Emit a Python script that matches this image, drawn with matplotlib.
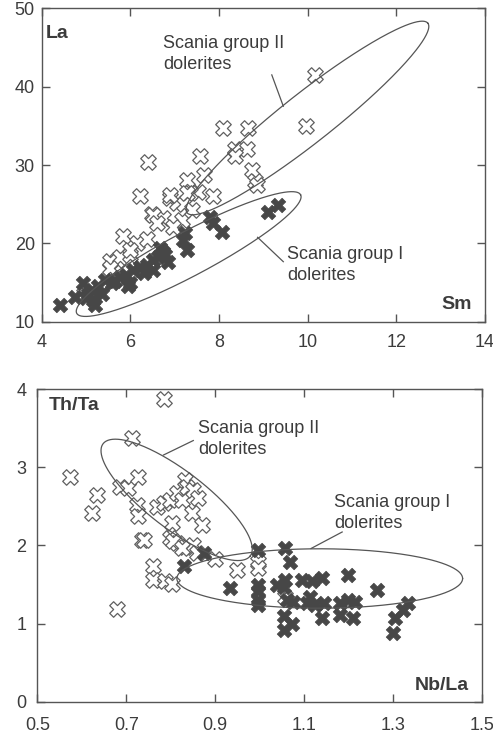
import numpy as np
import matplotlib
matplotlib.use("Agg")
import matplotlib.pyplot as plt

plt.rcParams["font.family"] = ["Liberation Sans", "DejaVu Sans"]

# ─── DATA ─────────────────────────────────────────────────────────────────────
# Sm vs La, group II dolerites (open crosses)
sm_grp2 = [10.17, 9.96, 8.10, 8.66, 8.36, 8.62, 8.36, 6.40, 7.57, 8.74, 8.81,
           7.27, 7.65, 7.87, 7.53, 7.35, 6.22, 6.89, 7.05, 7.20, 6.48, 6.74,
           7.16, 6.97, 6.52, 5.84, 6.14, 6.37, 5.69, 5.54, 5.77, 5.99, 5.99,
           8.85, 6.89, 7.27, 5.54, 4.95, 6.60, 7.40]
la_grp2 = [41.5, 35.0, 34.7, 34.7, 32.1, 32.1, 31.1, 30.4, 31.1, 29.4, 27.9,
           28.1, 28.7, 26.0, 26.6, 26.4, 26.0, 25.8, 25.1, 25.0, 23.8, 23.2,
           23.0, 22.1, 23.6, 20.9, 20.0, 20.6, 17.9, 17.7, 18.3, 18.5, 19.2,
           27.5, 26.2, 26.4, 16.8, 13.5, 22.6, 24.2]

# Sm vs La, group I dolerites (solid crosses)
sm_grp1 = [4.41, 4.75, 4.94, 5.05, 5.20, 5.28, 5.43, 5.58, 5.77, 5.95, 6.07,
           6.22, 6.37, 6.52, 6.63, 6.74, 6.52, 7.19, 7.27, 7.23, 7.80, 7.87,
           8.06, 9.11, 9.34, 6.78, 6.67, 5.13, 5.00, 5.15, 5.35, 5.90, 6.00,
           5.65, 6.30, 6.85]
la_grp1 = [12.1, 13.2, 14.9, 13.6, 12.1, 14.5, 15.3, 14.9, 15.7, 14.5, 16.6,
           17.0, 17.2, 17.9, 18.3, 18.9, 16.6, 20.4, 19.2, 21.3, 23.4, 22.6,
           21.5, 24.0, 24.9, 18.5, 19.4, 14.0, 13.0, 12.8, 13.6, 16.0, 15.0,
           15.2, 16.2, 17.6]

# Nb/La vs Th/Ta, group II dolerites
nbla_grp2 = [0.786, 0.712, 0.574, 0.634, 0.622, 0.686, 0.705, 0.727, 0.724,
             0.727, 0.735, 0.769, 0.784, 0.799, 0.802, 0.814, 0.825, 0.832,
             0.836, 0.851, 0.862, 0.847, 0.870, 0.799, 0.814, 0.832, 0.851,
             0.739, 0.806, 0.825, 0.859, 0.900, 0.949, 0.997, 0.997, 0.761,
             0.761, 0.787, 0.802, 0.679, 1.057]
thta_grp2 = [3.87, 3.37, 2.88, 2.64, 2.41, 2.75, 2.73, 2.88, 2.52,
             2.37, 2.07, 2.49, 2.54, 2.58, 2.28, 2.67, 2.58, 2.84,
             2.75, 2.71, 2.60, 2.41, 2.26, 2.09, 2.03, 1.98, 2.00,
             2.07, 2.05, 1.96, 1.90, 1.83, 1.68, 1.79, 1.71, 1.73,
             1.56, 1.54, 1.51, 1.19, 1.34]

# Nb/La vs Th/Ta, group I dolerites
nbla_grp1 = [0.829, 0.874, 0.934, 0.997, 0.997, 0.997, 0.997, 0.997, 1.057,
             1.069, 1.039, 1.057, 1.054, 1.061, 1.076, 1.054, 1.072, 1.054,
             1.095, 1.117, 1.140, 1.114, 1.106, 1.125, 1.144, 1.140, 1.181,
             1.181, 1.200, 1.200, 1.215, 1.211, 1.264, 1.305, 1.301, 1.324,
             1.335]
thta_grp1 = [1.73, 1.90, 1.45, 1.94, 1.49, 1.41, 1.30, 1.24, 1.96,
             1.79, 1.49, 1.56, 1.47, 1.30, 1.28, 1.09, 1.00, 0.92,
             1.56, 1.54, 1.58, 1.34, 1.26, 1.24, 1.26, 1.07, 1.26,
             1.11, 1.62, 1.30, 1.28, 1.07, 1.43, 1.07, 0.875, 1.17,
             1.26]

# field outlines: long-axis tips (data units) and width/length ratio
top_field2 = ((7.28, 23.9), (12.71, 48.1), 0.163)
top_field1 = ((4.79, 11.07), (9.84, 26.2), 0.174)
bot_field2 = ((0.648, 3.30), (0.979, 1.864), 0.314)
bot_field1 = ((0.814, 1.576), (1.457, 1.576), 0.208)
# ──────────────────────────────────────────────────────────────────────────────

GREY = "#555555"
TEXT = "#3c3c3c"
OPEN_EDGE = "#5f5f5f"
SOLID = "#474747"


def draw_field(ax, tip_a, tip_b, ratio):
    """Draw an ellipse outline defined by its long-axis tips (screen-space)."""
    trans = ax.transData
    p = trans.transform([tip_a, tip_b])
    c = p.mean(axis=0)
    half = (p[1] - p[0]) / 2
    perp = np.array([-half[1], half[0]]) * ratio
    t = np.linspace(0, 2 * np.pi, 300)
    pts = c + np.outer(np.cos(t), half) + np.outer(np.sin(t), perp)
    data = trans.inverted().transform(pts)
    ax.plot(data[:, 0], data[:, 1], color=GREY, lw=0.9, zorder=4)


def style_axes(ax, xpad, ypad):
    for s in ax.spines.values():
        s.set_color(GREY)
        s.set_linewidth(1.0)
    ax.tick_params(direction="in", length=6, width=1.0, color=GREY,
                   labelsize=13, labelcolor=TEXT, top=True, right=True)
    ax.tick_params(axis="x", pad=xpad)
    ax.tick_params(axis="y", pad=ypad)


def scatter_groups(ax, x2, y2, x1, y1):
    ax.scatter(x2, y2, marker="X", s=125, facecolor="white",
               edgecolor=OPEN_EDGE, linewidth=0.9, zorder=3)
    ax.scatter(x1, y1, marker="X", s=110, facecolor=SOLID,
               edgecolor=SOLID, linewidth=0.5, zorder=3)


fig = plt.figure(figsize=(4.93, 7.34), dpi=100)
ax1 = fig.add_axes([0.0846, 0.5617, 0.8992, 0.4270])
ax2 = fig.add_axes([0.0757, 0.0440, 0.9014, 0.4260])

# Sm vs La
ax1.set_xlim(4, 14)
ax1.set_ylim(10, 50)
ax1.set_xticks([4, 6, 8, 10, 12, 14])
ax1.set_yticks([10, 20, 30, 40, 50])
style_axes(ax1, 9, 5)
scatter_groups(ax1, sm_grp2, la_grp2, sm_grp1, la_grp1)
draw_field(ax1, *top_field2)
draw_field(ax1, *top_field1)
ax1.text(0.008, 0.948, "La", transform=ax1.transAxes, fontsize=14,
         fontweight="bold", color=TEXT, ha="left", va="top")
ax1.text(0.97, 0.04, "Sm", transform=ax1.transAxes, fontsize=14,
         fontweight="bold", color=TEXT, ha="right", va="baseline")
ax1.text(6.74, 46.6, "Scania group II\ndolerites", fontsize=13, color=TEXT,
         ha="left", va="top", linespacing=1.3)
ax1.plot([9.19, 9.45], [41.5, 37.5], color=GREY, lw=0.9)
ax1.text(9.53, 19.6, "Scania group I\ndolerites", fontsize=13, color=TEXT,
         ha="left", va="top", linespacing=1.3)
ax1.plot([8.87, 9.45], [20.77, 17.66], color=GREY, lw=0.9)

# Nb/La vs Th/Ta
ax2.set_xlim(0.5, 1.5)
ax2.set_ylim(0, 4)
ax2.set_xticks([0.5, 0.7, 0.9, 1.1, 1.3, 1.5])
ax2.set_xticklabels(["0.5", "0.7", "0.9", "1.1", "1.3", "1.5"])
ax2.set_yticks([0, 1, 2, 3, 4])
style_axes(ax2, 11, 8)
scatter_groups(ax2, nbla_grp2, thta_grp2, nbla_grp1, thta_grp1)
draw_field(ax2, *bot_field2)
draw_field(ax2, *bot_field1)
ax2.text(0.025, 0.973, "Th/Ta", transform=ax2.transAxes, fontsize=14,
         fontweight="bold", color=TEXT, ha="left", va="top")
ax2.text(0.97, 0.038, "Nb/La", transform=ax2.transAxes, fontsize=14,
         fontweight="bold", color=TEXT, ha="right", va="baseline")
ax2.text(0.862, 3.60, "Scania group II\ndolerites", fontsize=13, color=TEXT,
         ha="left", va="top", linespacing=1.3)
ax2.plot([0.784, 0.851], [3.156, 3.341], color=GREY, lw=0.9)
ax2.text(1.168, 2.66, "Scania group I\ndolerites", fontsize=13, color=TEXT,
         ha="left", va="top", linespacing=1.3)
ax2.plot([1.116, 1.186], [1.960, 2.171], color=GREY, lw=0.9)

fig.savefig("out.png", dpi=100)
